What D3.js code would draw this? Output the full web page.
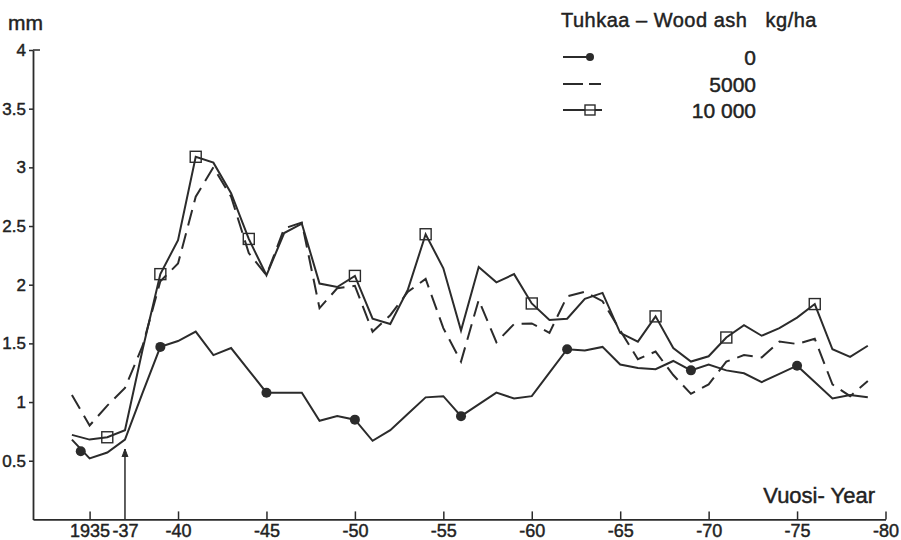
<!DOCTYPE html>
<html>
<head>
<meta charset="utf-8">
<script src="https://cdn.jsdelivr.net/npm/d3@7"></script>
<style>
  body { margin: 0; background: #fff; }
  svg text { font-family: "Liberation Sans", Arial, sans-serif; fill: #222; stroke: #222; stroke-width: 0.45px; white-space: pre; }
</style>
</head>
<body>
<div id="chart"></div>
<script>
const W = 901;
const H = 540;

// years 1934..1979
const years = [1934, 1935, 1936, 1937, 1938, 1939, 1940, 1941, 1942, 1943,
               1944, 1945, 1946, 1947, 1948, 1949, 1950, 1951, 1952, 1953,
               1954, 1955, 1956, 1957, 1958, 1959, 1960, 1961, 1962, 1963,
               1964, 1965, 1966, 1967, 1968, 1969, 1970, 1971, 1972, 1973,
               1974, 1975, 1976, 1977, 1978, 1979];

// ring width, mm
const ash0 = [0.68, 0.52, 0.57, 0.68, 1.08, 1.47, 1.52, 1.60, 1.40, 1.46,
              1.27, 1.08, 1.08, 1.08, 0.84, 0.88, 0.85, 0.67, 0.76, 0.90,
              1.04, 1.05, 0.88, 0.98, 1.08, 1.03, 1.05, 1.25, 1.45, 1.44,
              1.47, 1.32, 1.29, 1.28, 1.35, 1.27, 1.32, 1.27, 1.245, 1.17,
              1.24, 1.31, 1.17, 1.03, 1.06, 1.04];

const ash5000 = [1.06, 0.80, 0.97, 1.12, 1.48, 2.03, 2.18, 2.75, 3.00, 2.75,
                 2.27, 2.08, 2.48, 2.53, 1.80, 1.97, 1.99, 1.60, 1.74, 1.94,
                 2.05, 1.63, 1.345, 1.87, 1.51, 1.665, 1.67, 1.59, 1.90, 1.94,
                 1.86, 1.61, 1.365, 1.43, 1.23, 1.07, 1.15, 1.345, 1.40, 1.38,
                 1.515, 1.495, 1.54, 1.15, 1.05, 1.18];

const ash10000 = [0.72, 0.68, 0.70, 0.76, 1.45, 2.09, 2.38, 3.09, 3.04, 2.78,
                  2.39, 2.08, 2.44, 2.52, 2.01, 1.98, 2.075, 1.71, 1.665, 1.96,
                  2.43, 2.14, 1.61, 2.15, 2.02, 2.09, 1.84, 1.70, 1.71, 1.88,
                  1.93, 1.59, 1.515, 1.73, 1.46, 1.345, 1.39, 1.55, 1.655, 1.565,
                  1.63, 1.72, 1.835, 1.45, 1.385, 1.48];

// marker positions [year, mm]
const dots0 = [[1934.5, 0.58], [1939, 1.47], [1945, 1.08], [1950, 0.85],
               [1956, 0.88], [1962, 1.45], [1969, 1.27], [1975, 1.31]];
const squares10000 = [[1936, 0.70], [1939, 2.09], [1941, 3.09], [1944, 2.39],
                      [1950, 2.075], [1954, 2.43], [1960, 1.84], [1967, 1.73],
                      [1971, 1.55], [1976, 1.835]];

const xTicks = [1935, 1937, 1940, 1945, 1950, 1955, 1960, 1965, 1970, 1975, 1980];
const xTickLabels = ["1935", "-37", "-40", "-45", "-50", "-55", "-60", "-65", "-70", "-75", "-80"];
const yTicks = [0.5, 1, 1.5, 2, 2.5, 3, 3.5, 4];
const yTickLabels = ["0.5", "1", "1.5", "2", "2.5", "3", "3.5", "4"];

const legendLabels = ["0", "5000", "10 000"];
const treatmentYear = 1937;

const ink = "#2b2b2b";

const svg = d3.select("#chart").append("svg")
  .attr("width", W)
  .attr("height", H);

const x = d3.scaleLinear().domain([1931.8, 1980]).range([33, 885.5]);
const y = d3.scaleLinear().domain([0, 4]).range([519.4, 50]);

// x axis, ticks pointing up
const xAxis = svg.append("g")
  .attr("transform", "translate(0," + y(0) + ")")
  .call(d3.axisBottom(x)
    .tickValues(xTicks)
    .tickFormat((d, i) => xTickLabels[i])
    .tickSizeInner(-8)
    .tickSizeOuter(0)
    .tickPadding(5));
xAxis.select(".domain").attr("stroke", ink).attr("stroke-width", 1.8);
xAxis.selectAll(".tick line").attr("stroke", ink).attr("stroke-width", 1.5)
  .filter(d => d === treatmentYear).remove();
xAxis.selectAll(".tick text").style("font-size", "18px").attr("fill", ink);

// y axis
const yAxis = svg.append("g")
  .attr("transform", "translate(" + x(1931.8) + ",0)")
  .call(d3.axisLeft(y)
    .tickValues(yTicks)
    .tickFormat((d, i) => yTickLabels[i])
    .tickSizeInner(4)
    .tickSizeOuter(0)
    .tickPadding(3));
yAxis.select(".domain").attr("stroke", ink).attr("stroke-width", 1.8);
yAxis.selectAll(".tick line").attr("stroke", ink).attr("stroke-width", 1.5);
yAxis.selectAll(".tick text").style("font-size", "17px").attr("fill", ink);
// small cap at the top of the axis
yAxis.append("line")
  .attr("x1", 0).attr("x2", 7)
  .attr("y1", y(4)).attr("y2", y(4))
  .attr("stroke", ink).attr("stroke-width", 1.5);

svg.append("text")
  .attr("x", 8).attr("y", 30)
  .style("font-size", "21px")
  .text("mm");

svg.append("text")
  .attr("x", 875).attr("y", 503)
  .attr("text-anchor", "end")
  .style("font-size", "22px")
  .text("Vuosi- Year");

// arrow at treatment year
svg.append("line")
  .attr("x1", x(treatmentYear)).attr("x2", x(treatmentYear))
  .attr("y1", y(0)).attr("y2", y(0.6))
  .attr("stroke", ink).attr("stroke-width", 1.5);
svg.append("path")
  .attr("d", d3.line()([[x(treatmentYear) - 3, y(0.6) + 8], [x(treatmentYear), y(0.6)], [x(treatmentYear) + 3, y(0.6) + 8]]))
  .attr("fill", ink).attr("stroke", ink).attr("stroke-width", 1);

// lines
const line = d3.line()
  .x(d => x(d[0]))
  .y(d => y(d[1]));

const series = [
  { values: ash0, dash: null },
  { values: ash5000, dash: "16,8" },
  { values: ash10000, dash: null }
];

series.forEach(s => {
  svg.append("path")
    .datum(years.map((yr, i) => [yr, s.values[i]]))
    .attr("fill", "none")
    .attr("stroke", ink)
    .attr("stroke-width", 2)
    .attr("stroke-linejoin", "miter")
    .attr("stroke-dasharray", s.dash)
    .attr("d", line);
});

svg.append("g").selectAll("circle")
  .data(dots0)
  .join("circle")
  .attr("cx", d => x(d[0]))
  .attr("cy", d => y(d[1]))
  .attr("r", 5)
  .attr("fill", ink);

svg.append("g").selectAll("rect")
  .data(squares10000)
  .join("rect")
  .attr("x", d => x(d[0]) - 5.5)
  .attr("y", d => y(d[1]) - 5.5)
  .attr("width", 11)
  .attr("height", 11)
  .attr("fill", "none")
  .attr("stroke", ink)
  .attr("stroke-width", 1.4);

// legend
const lg = svg.append("g");
lg.append("text")
  .attr("x", 561).attr("y", 27)
  .style("font-size", "20px")
  .style("letter-spacing", "0.5px")
  .text("Tuhkaa – Wood ash   kg/ha");

const rowY = [57, 84, 110];
lg.append("line").attr("x1", 563).attr("x2", 590).attr("y1", rowY[0]).attr("y2", rowY[0])
  .attr("stroke", ink).attr("stroke-width", 2);
lg.append("circle").attr("cx", 590).attr("cy", rowY[0]).attr("r", 4).attr("fill", ink);

lg.append("line").attr("x1", 563).attr("x2", 601).attr("y1", rowY[1]).attr("y2", rowY[1])
  .attr("stroke", ink).attr("stroke-width", 2).attr("stroke-dasharray", "20,6");

lg.append("line").attr("x1", 563).attr("x2", 602).attr("y1", rowY[2]).attr("y2", rowY[2])
  .attr("stroke", ink).attr("stroke-width", 2);
lg.append("rect").attr("x", 585).attr("y", rowY[2] - 5).attr("width", 10).attr("height", 10)
  .attr("fill", "#fff").attr("stroke", ink).attr("stroke-width", 1.4);
lg.append("line").attr("x1", 585).attr("x2", 595).attr("y1", rowY[2]).attr("y2", rowY[2])
  .attr("stroke", ink).attr("stroke-width", 1.4);

lg.selectAll("text.lab")
  .data(legendLabels)
  .join("text")
  .attr("class", "lab")
  .attr("x", 756)
  .attr("y", (d, i) => rowY[i] + 8)
  .attr("text-anchor", "end")
  .style("font-size", "21px")
  .text(d => d);
</script>
</body>
</html>
